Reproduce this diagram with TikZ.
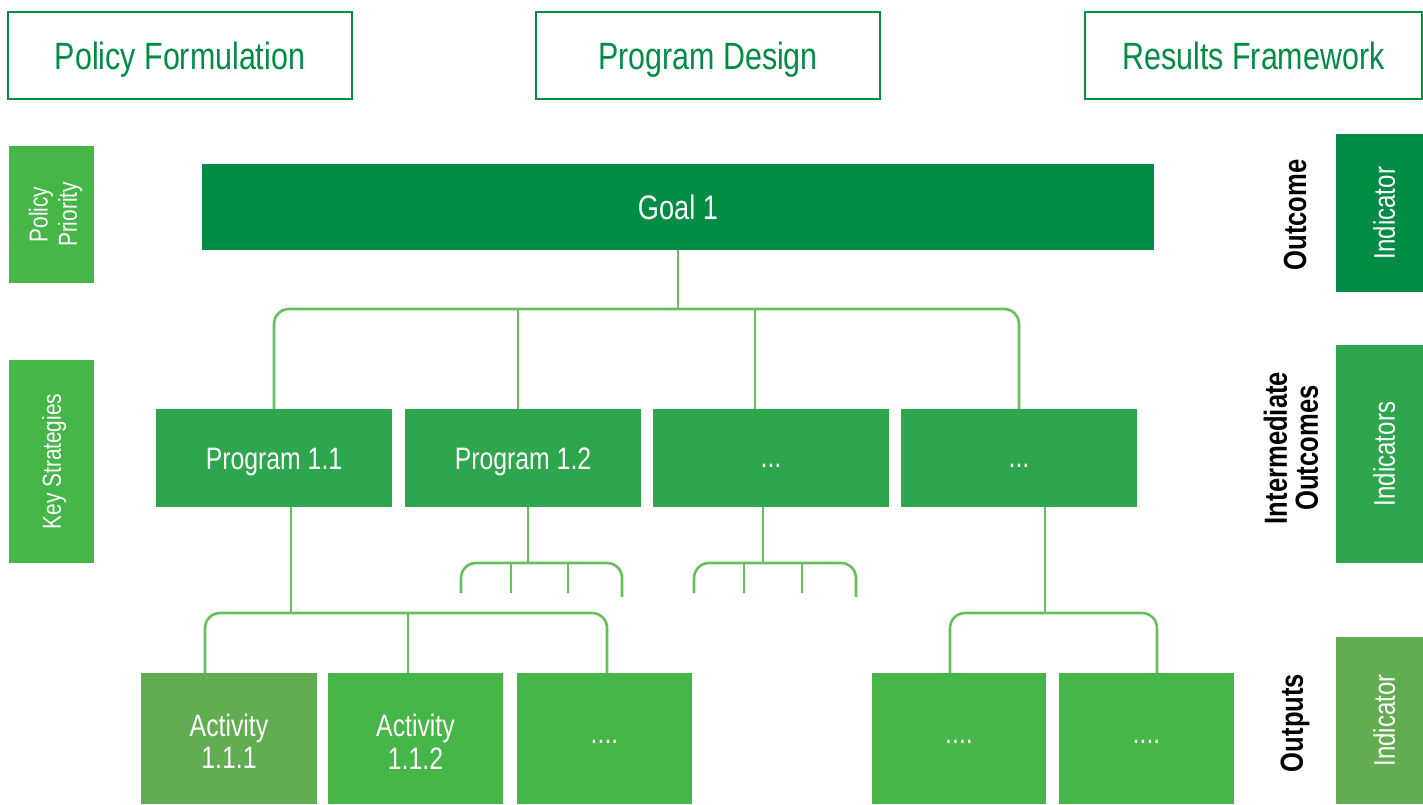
\documentclass[tikz,border=0pt]{standalone}
\usepackage{fontspec}
\setmainfont[FakeStretch=0.8]{Liberation Sans}
\usetikzlibrary{calc}
\definecolor{dkgreen}{HTML}{008C44}
\definecolor{mdgreen}{HTML}{2EA64D}
\definecolor{ltgreen}{HTML}{47B649}
\definecolor{mugreen}{HTML}{62AC52}
\definecolor{linegreen}{HTML}{66BF5A}
\definecolor{outgreen}{HTML}{00923F}
\begin{document}
\begin{tikzpicture}[x=1pt,y=-1pt,
  fbox/.style={draw=none,inner sep=0pt,text=white,align=center,font=\fontsize{31}{32}\selectfont},
  obox/.style={draw=outgreen,line width=2.2pt,fill=white,inner sep=0pt,text=dkgreen,text height=27.2pt,text depth=0pt,font=\fontsize{38}{40}\selectfont},
  sidelbl/.style={fbox,fill=ltgreen,rotate=90,font=\fontsize{26}{29}\selectfont},
  ind/.style={fbox,rotate=90,text height=30.5pt,text depth=0pt,font=\fontsize{30}{32}\selectfont},
  prog/.style={fbox,fill=mdgreen,minimum width=236pt,minimum height=98pt,text depth=0pt},
  act/.style={fbox,minimum width=175pt,minimum height=131pt},
  rlbl/.style={rotate=90,align=center,inner sep=0pt,text=black,font=\bfseries\fontsize{32}{31}\selectfont},
  conn/.style={draw=linegreen,line width=2.6pt}]
\useasboundingbox (0,0) rectangle (1423,804);
% header boxes
\node[obox,minimum width=344pt,minimum height=87pt] (pf) at (180,55.5) {Policy Formulation};
\node[obox,minimum width=344pt,minimum height=87pt] (pd) at (708,55.5) {Program Design};
\node[obox,minimum width=337pt,minimum height=87pt] (rf) at (1253.5,55.5) {Results Framework};
% left side labels
\node[sidelbl,minimum width=137pt,minimum height=85pt] (pp) at (51.5,214.5) {\raisebox{0pt}[\dimexpr\height+8pt][\depth]{\shortstack{Policy\\[2pt]Priority}}};
\node[sidelbl,text height=18.6pt,text depth=0pt,minimum width=203pt,minimum height=85pt] (ks) at (51.5,461.5) {Key Strategies};
% goal
\node[fbox,text height=24.3pt,text depth=0pt,fill=dkgreen,minimum width=952pt,minimum height=86pt,font=\fontsize{34}{34}\selectfont] (goal) at (678,207) {Goal 1};
% programs
\node[prog,text height=22.2pt] (p11) at (274,458) {Program 1.1};
\node[prog,text height=22.2pt] (p12) at (523,458) {Program 1.2};
\node[prog,text height=18pt] (p3) at (771,458) {...};
\node[prog,text height=18pt] (p4) at (1019,458) {...};
% activities
\node[act,fill=mugreen,minimum width=176pt] (a1) at (229,738.5) {\raisebox{0pt}[\dimexpr\height+6pt][\depth]{\shortstack{Activity\\[1.5pt]1.1.1}}};
\node[act,fill=ltgreen] (a2) at (415.5,738.5) {\raisebox{0pt}[\dimexpr\height+6pt][\depth]{\shortstack{Activity\\[1.5pt]1.1.2}}};
\node[act,fill=ltgreen,text height=9pt,text depth=0pt] (a3) at (604.5,738.5) {....};
\node[act,fill=ltgreen,minimum width=174pt,text height=9pt,text depth=0pt] (a4) at (959,738.5) {....};
\node[act,fill=ltgreen,text height=9pt,text depth=0pt] (a5) at (1146.5,738.5) {....};
% right side
\node[rlbl] (oc) at (1295,215) {Outcome};
\node[rlbl] (io) at (1291,448) {Intermediate\\Outcomes};
\node[rlbl] (op) at (1295,723) {Outputs};
\node[ind,fill=dkgreen,minimum width=158pt,minimum height=87pt] (i1) at (1379.5,213) {Indicator};
\node[ind,fill=mdgreen,minimum width=218pt,minimum height=87pt] (i2) at (1379.5,454) {Indicators};
\node[ind,fill=mugreen,minimum width=167pt,minimum height=87pt] (i3) at (1379.5,720.5) {Indicator};
% goal -> programs
\coordinate (bus) at (678,309);
\coordinate (b2) at (518,309);
\coordinate (b3) at (755,309);
\draw[conn] (goal.south) -- (bus);
\draw[conn,rounded corners=15pt] (p11.north) |- (bus) -| (p4.north);
\draw[conn] (b2) -- (b2 |- p12.north);
\draw[conn] (b3) -- (b3 |- p3.north);
% program 1.1 -> activities
\coordinate (ab) at (291,613);
\coordinate (ab1) at (205,613);
\coordinate (ab2) at (408,613);
\coordinate (ab3) at (607,613);
\draw[conn] (ab |- p11.south) -- (ab);
\draw[conn,rounded corners=15pt] (ab1 |- a1.north) -- (ab1) -- (ab3) -- (ab3 |- a3.north);
\draw[conn] (ab2) -- (ab2 |- a2.north);
% last program -> activities
\coordinate (cb) at (1045,613);
\coordinate (cb1) at (950,613);
\coordinate (cb2) at (1157,613);
\draw[conn] (cb |- p4.south) -- (cb);
\draw[conn,rounded corners=15pt] (cb1 |- a4.north) -- (cb1) -- (cb2) -- (cb2 |- a5.north);
% program 1.2 small branch
\coordinate (db) at (528,563);
\coordinate (d1) at (461,593);
\coordinate (d2) at (511,593);
\coordinate (d3) at (568,593);
\coordinate (d4) at (622,597);
\draw[conn] (db |- p12.south) -- (db);
\draw[conn,rounded corners=15pt] (d1) |- (db) -| (d4);
\draw[conn] (d2) -- (d2 |- db);
\draw[conn] (d3) -- (d3 |- db);
% program 3 small branch
\coordinate (eb) at (763,563);
\coordinate (e1) at (694,593);
\coordinate (e2) at (744,593);
\coordinate (e3) at (802,593);
\coordinate (e4) at (856,597);
\draw[conn] (eb |- p3.south) -- (eb);
\draw[conn,rounded corners=15pt] (e1) |- (eb) -| (e4);
\draw[conn] (e2) -- (e2 |- eb);
\draw[conn] (e3) -- (e3 |- eb);
\end{tikzpicture}
\end{document}
